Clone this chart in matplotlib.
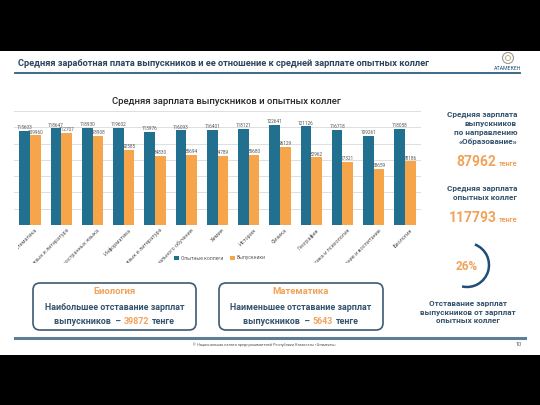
import matplotlib.pyplot as plt
import numpy as np
from matplotlib.patches import FancyBboxPatch, Rectangle, Arc, Circle
from matplotlib.transforms import Bbox

plt.rcParams['font.family'] = ['Roboto', 'DejaVu Sans']

# data
categories = ['Математика', 'Русский язык и литература', 'Иностранный язык: два иностранных языка',
              'Информатика', 'Казахский язык и литература', 'Педагогика и методика начального обучения',
              'Химия', 'История', 'Физика', 'География', 'Педагогика и психология',
              'Дошкольное обучение и воспитание', 'Биология']
experienced = [115603, 118647, 118930, 119602, 113976, 116093, 116401,
               118121, 122641, 121126, 116718, 109261, 118058]
graduates = [109960, 112707, 108908, 92585, 84830, 85694, 84789,
             85680, 96129, 82962, 77321, 68659, 78186]
avg_graduates = 87962
avg_experienced = 117793
gap_pct = 26
max_gap = ('Биология', 39872)
min_gap = ('Математика', 5643)

BLUE = '#21708F'
ORANGE = '#F7A54A'
DARK = '#34536E'
TXT_OR = '#F2A35A'

fig = plt.figure(figsize=(5.4, 4.05), dpi=100)
fig.patch.set_facecolor('black')

# background layer in pixel coords (y from top)
bg = fig.add_axes([0, 0, 1, 1])
bg.set_xlim(0, 540)
bg.set_ylim(405, 0)
bg.axis('off')
bg.add_patch(Rectangle((0, 50.5), 540, 304, facecolor='white', edgecolor='none'))

# header
bg.text(18, 64, 'Средняя заработная плата выпускников и ее отношение к средней зарплате опытных коллег',
        fontsize=6.7, fontweight='bold', color='#2B4560', va='center', ha='left')
bg.plot([15, 520], [72.5, 72.5], color='#2E5E7E', lw=1.3)
bg.add_patch(Circle((508, 58), 5.5, facecolor='none', edgecolor='#9a9a9a', lw=0.8))
bg.add_patch(Circle((508, 58), 2.5, facecolor='none', edgecolor='#b5a36a', lw=0.6))
bg.text(508, 69, 'АТАМЕКЕН', fontsize=3.8, color='#1F4E79', ha='center', va='center')

# footer
bg.plot([15, 525], [338, 338], color='#5F7D95', lw=2.2)
bg.text(193, 345, '© Национальная палата предпринимателей Республики Казахстан «Атамекен»',
        fontsize=2.8, color='#555555', va='center')
bg.text(522, 345, '10', fontsize=4, color='#555555', va='center', ha='right')

# chart title
bg.text(226, 101, 'Средняя зарплата выпускников и опытных коллег', fontsize=6.8,
        color='#262626', ha='center', va='center', fontweight='medium')

# bar chart
ax = fig.add_axes([14.4 / 540, 180 / 405, 406.2 / 540, 114 / 405])
ax.set_facecolor('none')
x = np.arange(len(categories))
w = 0.34
b1 = ax.bar(x - w / 2, experienced, w, color=BLUE, label='Опытные коллеги', zorder=2)
b2 = ax.bar(x + w / 2, graduates, w, color=ORANGE, label='Выпускники', zorder=2)
ax.bar_label(b1, fmt='%d', fontsize=3.4, color='#595959', padding=0.6)
ax.bar_label(b2, fmt='%d', fontsize=3.4, color='#595959', padding=0.6)
ax.set_xlim(-0.5, 12.5)
ax.set_ylim(0, 140000)
ax.set_yticks(np.arange(0, 140001, 20000))
ax.yaxis.grid(True, color='#D9D9D9', lw=0.6, zorder=0)
ax.tick_params(axis='y', length=0, labelleft=False)
ax.tick_params(axis='x', length=0, pad=2)
for s in ax.spines.values():
    s.set_visible(False)
ax.set_xticks(x + 0.15)
ax.set_xticklabels(categories, rotation=45, ha='right', rotation_mode='anchor',
                   fontsize=4, color='#595959')
clip = Bbox.from_extents(18, 405 - 263, 425, 405)
for lab in ax.get_xticklabels():
    lab.set_clip_box(clip)
    lab.set_clip_on(True)
ax.legend(loc='center', bbox_to_anchor=(220 / 540, (405 - 258) / 405), bbox_transform=fig.transFigure,
          ncol=2, fontsize=3.6, frameon=False, handlelength=0.9, handleheight=0.9,
          columnspacing=1.5, handletextpad=0.4, labelcolor='#595959')

r = fig.canvas.get_renderer()


def row(xc, y, parts, align='center'):
    # parts: (text, color, size, gap after)
    ts = [bg.text(0, y, s, fontsize=sz, color=c, fontweight='bold', va='baseline', ha='left')
          for s, c, sz, _ in parts]
    ws = [t.get_window_extent(r).width for t in ts]
    gaps = [g for _, _, _, g in parts]
    total = sum(ws) + sum(gaps[:-1])
    cur = xc - total / 2 if align == 'center' else xc - total
    for t, wd, g in zip(ts, ws, gaps):
        t.set_x(cur)
        cur += wd + g


# right panel
bg.text(517, 128, 'Средняя зарплата\nвыпускников\nпо направлению\n«Образование»', fontsize=5.9,
        fontweight='bold', color=DARK, ha='right', va='center', linespacing=1.3)
row(517, 166, [(str(avg_graduates), TXT_OR, 10, 2), ('тенге', TXT_OR, 5.2, 0)], align='right')
bg.text(517, 193, 'Средняя зарплата\nопытных коллег', fontsize=5.9,
        fontweight='bold', color=DARK, ha='right', va='center', linespacing=1.3)
row(517, 222, [(str(avg_experienced), TXT_OR, 10, 2), ('тенге', TXT_OR, 5.2, 0)], align='right')

# gap ring
bg.add_patch(Arc((467, 265), 44, 44, theta1=-69, theta2=103, color='#1F4E79', lw=1.8))
bg.text(467, 266, f'{gap_pct}%', fontsize=8.5, fontweight='bold', color=TXT_OR, ha='center', va='center')
bg.text(468, 312, 'Отставание зарплат\nвыпускников от зарплат\nопытных коллег', fontsize=5.9,
        fontweight='bold', color=DARK, ha='center', va='center', linespacing=1.3)

# boxes
for (x0, x1), title, line2, val in [((33, 196), max_gap[0], 'Наибольшее отставание зарплат', max_gap[1]),
                                     ((219, 383), min_gap[0], 'Наименьшее отставание зарплат', min_gap[1])]:
    bg.add_patch(FancyBboxPatch((x0, 283), x1 - x0, 47, boxstyle='round,pad=0,rounding_size=7',
                                facecolor='white', edgecolor='#3D5A73', lw=1.2))
    xc = (x0 + x1) / 2
    bg.text(xc, 292, title, fontsize=6.8, fontweight='bold', color=TXT_OR, ha='center', va='center')
    bg.text(xc, 308, line2, fontsize=6.4, fontweight='bold', color=DARK, ha='center', va='center')
    row(xc, 324, [('выпускников  –', DARK, 6.4, 3), (str(val), TXT_OR, 6.4, 3), ('тенге', DARK, 6.4, 0)])

fig.savefig('out.png', dpi=100, facecolor=fig.get_facecolor())
